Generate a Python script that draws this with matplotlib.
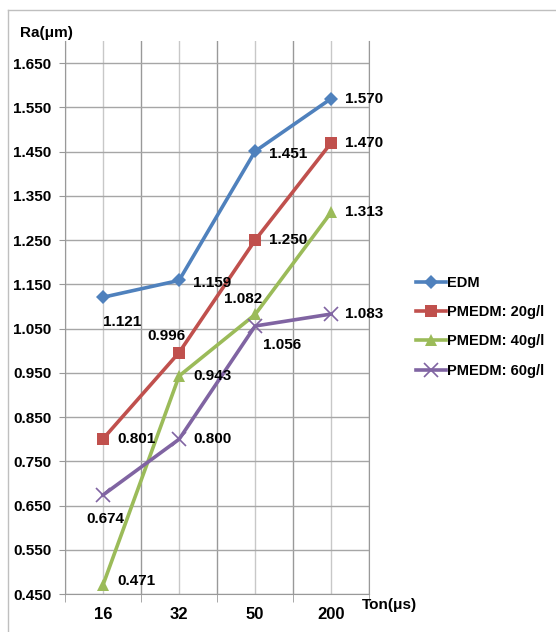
import matplotlib.pyplot as plt
import numpy as np
from matplotlib.lines import Line2D

# surface roughness vs pulse-on time
ton = ['16', '32', '50', '200']
edm = [1.121, 1.159, 1.451, 1.570]
pm20 = [0.801, 0.996, 1.250, 1.470]
pm40 = [0.471, 0.943, 1.082, 1.313]
pm60 = [0.674, 0.800, 1.056, 1.083]
names = ['EDM', 'PMEDM: 20g/l', 'PMEDM: 40g/l', 'PMEDM: 60g/l']
yticks = [0.45, 0.55, 0.65, 0.75, 0.85, 0.95, 1.05, 1.15, 1.25, 1.35, 1.45, 1.55, 1.65]

plt.rcParams['font.family'] = ['Liberation Sans', 'DejaVu Sans']
plt.rcParams['font.weight'] = 'bold'

fig = plt.figure(figsize=(5.56, 6.32), dpi=100)
ax = fig.add_axes([0.117, 0.060, 0.547, 0.875])

x = np.arange(len(ton))
series = [edm, pm20, pm40, pm60]
colors = ['#4F81BD', '#C0504D', '#9BBB59', '#8064A2']
markers = ['D', 's', '^', 'x']
msizes = [7, 8, 8, 10]

for vals, c, m, ms, n in zip(series, colors, markers, msizes, names):
    ax.plot(x, vals, color=c, lw=2.6, marker=m, ms=ms, mew=1.2 if m == 'x' else 0,
            mfc=c, mec=c, label=n, zorder=3)

# value labels: (dx, dy) in points, horizontal alignment
offs = [
    [(14, -18, 'center'), (10, -2, 'left'), (10, -2, 'left'), (10, 0, 'left')],
    [(10, 0, 'left'), (-9, 12, 'center'), (10, 0, 'left'), (10, 0, 'left')],
    [(10, 3, 'left'), (10, 0, 'left'), (-9, 11, 'center'), (10, 0, 'left')],
    [(2, -17, 'center'), (10, 0, 'left'), (6, -14, 'left'), (10, 0, 'left')],
]
for vals, off in zip(series, offs):
    for xi, v, (dx, dy, ha) in zip(x, vals, off):
        ax.annotate(f'{v:.3f}', (xi, v), xytext=(dx, dy), textcoords='offset points',
                    ha=ha, va='center', fontsize=11, fontweight='bold', zorder=4)

ax.set_xlim(-0.5, 3.5)
ax.set_ylim(0.45, 1.70)
ax.set_yticks(yticks)
ax.set_yticklabels([f'{t:.3f}' for t in yticks])
ax.set_xticks(x)
ax.set_xticklabels(ton)
ax.set_xticks(np.arange(-0.5, 4.0, 1.0), minor=True)

ax.grid(axis='y', color='#a6a6a6', lw=1.0, zorder=0)
ax.grid(axis='x', which='major', color='#c8c8c8', lw=1.0, zorder=0)
ax.grid(axis='x', which='minor', color='#999999', lw=1.0, zorder=0)
ax.tick_params(axis='x', which='major', length=0, pad=9, labelsize=12)
ax.tick_params(axis='x', which='minor', length=6, color='#999999')
ax.tick_params(axis='y', length=4, color='#999999', labelsize=11, pad=6)
for lab in ax.get_xticklabels() + ax.get_yticklabels():
    lab.set_fontweight('bold')

ax.spines['top'].set_visible(False)
for s in ['left', 'bottom', 'right']:
    ax.spines[s].set_color('#999999')

fig.text(0.036, 0.942, 'Ra(μm)', fontsize=11, fontweight='bold')
fig.text(0.651, 0.036, 'Ton(μs)', fontsize=11, fontweight='bold')

handles = [Line2D([], [], color=c, lw=2.6, marker=m, ms=ms, mew=1.2 if m == 'x' else 0,
                  mfc=c, mec=c) for c, m, ms in zip(colors, markers, msizes)]
fig.legend(handles, names, loc='upper left', bbox_to_anchor=(0.728, 0.582),
           frameon=False, handlelength=2.0, handletextpad=0.1, labelspacing=1.05,
           borderpad=0.3, prop={'size': 10.5, 'weight': 'bold'})

# outer chart frame
fig.add_artist(Line2D([0.0144, 0.0144], [0.0, 0.984], color='#bfbfbf', lw=1.0))
fig.add_artist(Line2D([0.0144, 1.0], [0.984, 0.984], color='#bfbfbf', lw=1.0))

fig.savefig('out.png', dpi=100)
